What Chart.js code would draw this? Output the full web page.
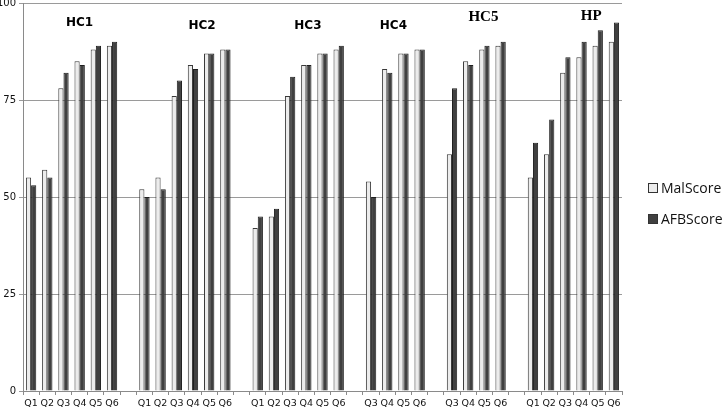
<!DOCTYPE html>
<html>
<head>
<meta charset="utf-8">
<script src="https://cdn.jsdelivr.net/npm/chart.js@4"></script>
<style>
  html, body { margin: 0; padding: 0; background: #fff; }
  #wrap { position: relative; width: 725px; height: 408px; }
  #legend { position: absolute; left: 648px; top: 179px; font-family: "Open Sans", sans-serif; font-size: 14px; color: #111; }
  #legend div { height: 31px; line-height: 18px; white-space: nowrap; }
  #legend span.box { display: inline-block; width: 8px; height: 8px; border: 1px solid #333; margin-right: 3px; vertical-align: 0px; }
</style>
</head>
<body>
<div id="wrap">
  <canvas id="bar" width="725" height="408"></canvas>
  <div id="legend"></div>
</div>
<script>
// groups and their question labels
let groups = ['HC1', 'HC2', 'HC3', 'HC4', 'HC5', 'HP'];
let questions = [
    ['Q1', 'Q2', 'Q3', 'Q4', 'Q5', 'Q6'],
    ['Q1', 'Q2', 'Q3', 'Q4', 'Q5', 'Q6'],
    ['Q1', 'Q2', 'Q3', 'Q4', 'Q5', 'Q6'],
    ['Q3', 'Q4', 'Q5', 'Q6'],
    ['Q3', 'Q4', 'Q5', 'Q6'],
    ['Q1', 'Q2', 'Q3', 'Q4', 'Q5', 'Q6']
];
let malScore = [
    [55, 57, 78, 85, 88, 89],
    [52, 55, 76, 84, 87, 88],
    [42, 45, 76, 84, 87, 88],
    [54, 83, 87, 88],
    [61, 85, 88, 89],
    [55, 61, 82, 86, 89, 90]
];
let afbScore = [
    [53, 55, 82, 84, 89, 90],
    [50, 52, 80, 83, 87, 88],
    [45, 47, 81, 84, 87, 89],
    [50, 82, 87, 88],
    [78, 84, 89, 90],
    [64, 70, 86, 90, 93, 95]
];
let yTicks = [0, 25, 50, 75, 100];

// flatten into one category axis with an empty slot between groups
let labels = [], malData = [], afbData = [];
groups.forEach(function (g, i) {
    if (i > 0) {
        labels.push('');
        malData.push(null);
        afbData.push(null);
    }
    questions[i].forEach(function (q, j) {
        labels.push(q);
        malData.push(malScore[i][j]);
        afbData.push(afbScore[i][j]);
    });
});

// where each group title sits (category index, y value) and its font
let titleStyle = [
    { at: 2.99, y: 94.8, font: 'bold 12px "DejaVu Sans", sans-serif' },
    { at: 10.56, y: 94.1, font: 'bold 12px "DejaVu Sans", sans-serif' },
    { at: 17.1, y: 94.1, font: 'bold 12px "DejaVu Sans", sans-serif' },
    { at: 22.38, y: 94.1, font: 'bold 12px "DejaVu Sans", sans-serif' },
    { at: 27.94, y: 96.4, font: 'bold 15px "Liberation Serif", serif' },
    { at: 34.6, y: 96.6, font: 'bold 15px "Liberation Serif", serif' }
];

const groupTitles = {
    id: 'groupTitles',
    afterDatasetsDraw(c) {
        const ctx = c.ctx;
        const xs = c.scales.x, ys = c.scales.y;
        ctx.save();
        ctx.fillStyle = '#000';
        ctx.textAlign = 'center';
        ctx.textBaseline = 'middle';
        groups.forEach(function (g, i) {
            ctx.font = titleStyle[i].font;
            ctx.fillText(g, xs.getPixelForValue(titleStyle[i].at), ys.getPixelForValue(titleStyle[i].y));
        });
        ctx.restore();
    }
};

var chart = document.getElementById('bar').getContext('2d');
chart = new Chart(chart, {
    type: 'bar',
    data: {
        labels: labels,
        datasets: [{
            label: 'MalScore',
            data: malData,
            backgroundColor: '#ececec',
            borderColor: '#3a3a3a',
            borderWidth: 1
        }, {
            label: 'AFBScore',
            data: afbData,
            backgroundColor: '#404040',
            borderColor: '#1e1e1e',
            borderWidth: 1
        }]
    },
    options: {
        responsive: false,
        animation: false,
        datasets: {
            bar: { categoryPercentage: 0.64, barPercentage: 1.0 }
        },
        layout: { padding: { top: 3, right: 103, bottom: 0, left: 0 } },
        plugins: {
            legend: { display: false },
            tooltip: { enabled: false }
        },
        scales: {
            x: {
                grid: { drawOnChartArea: false, drawTicks: true, tickLength: 4, color: '#8a8a8a' },
                border: { color: '#8a8a8a' },
                ticks: {
                    autoSkip: false, maxRotation: 0, padding: 3, color: '#111',
                    font: { family: '"DejaVu Sans", sans-serif', size: 9.5 }
                },
                afterFit: function (s) { s.height = 17; }
            },
            y: {
                min: 0,
                max: 100,
                afterBuildTicks: function (s) { s.ticks = yTicks.map(v => ({ value: v })); },
                grid: { color: '#9a9a9a', tickLength: 4 },
                border: { color: '#8a8a8a' },
                ticks: {
                    padding: 3, color: '#111',
                    font: { family: '"DejaVu Sans", sans-serif', size: 10 }
                },
                afterFit: function (s) { s.width = 23; s.paddingTop = 0; s.paddingBottom = 0; }
            }
        }
    },
    plugins: [groupTitles]
});

// legend on the right, from the datasets
let legend = document.getElementById('legend');
chart.data.datasets.forEach(function (ds) {
    let row = document.createElement('div');
    row.innerHTML = '<span class="box" style="background:' + ds.backgroundColor + '"></span>' + ds.label;
    legend.appendChild(row);
});
</script>
</body>
</html>
